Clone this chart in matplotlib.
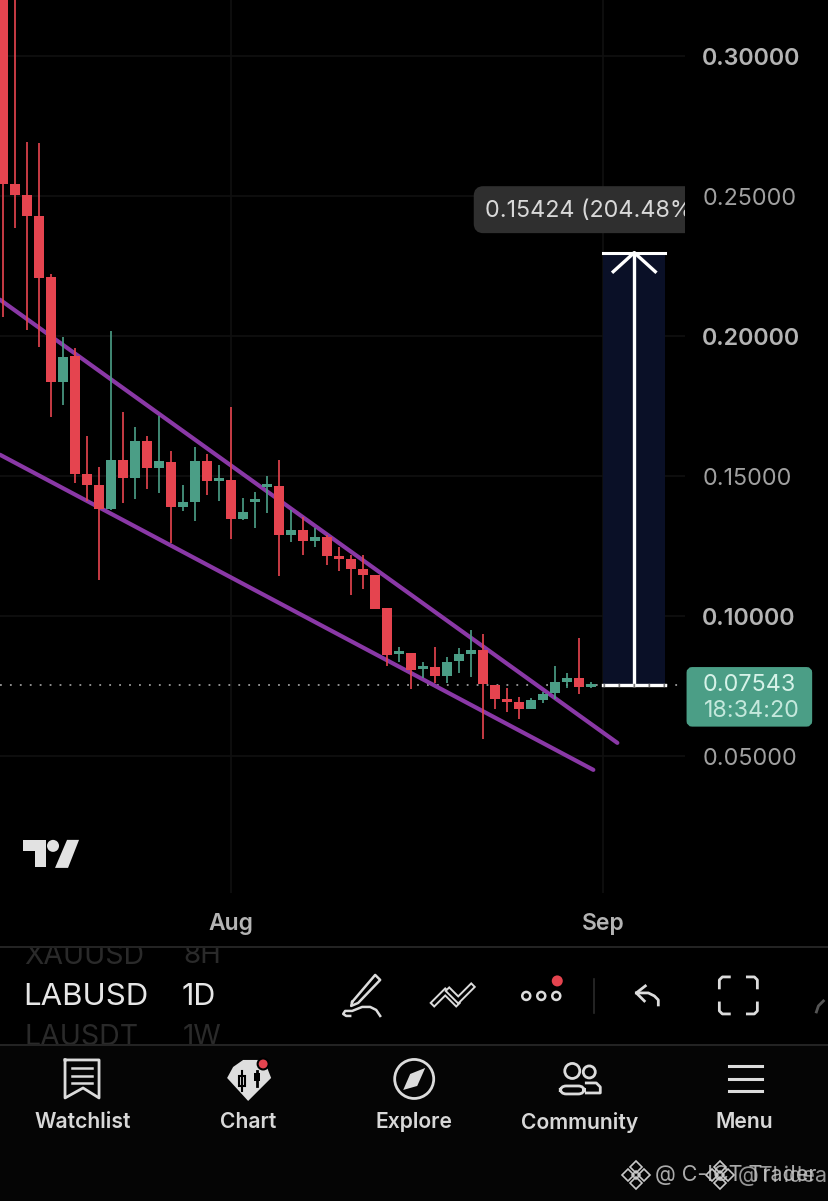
import matplotlib
matplotlib.use("Agg")
import matplotlib.pyplot as plt
from matplotlib.patches import Rectangle, FancyBboxPatch, Circle, Polygon

plt.rcParams['font.family'] = ['Inter', 'DejaVu Sans']

# Daily candles, first one is 19 days before Aug 1
days = list(range(-19, 31))
opens = [0.34000, 0.25429, 0.25036, 0.24286, 0.22107, 0.18357, 0.19286, 0.15071, 0.14679, 0.13821,
         0.15571, 0.14929, 0.16250, 0.15286, 0.15500, 0.13893, 0.14071, 0.15536, 0.14821, 0.14857,
         0.13464, 0.14071, 0.14607, 0.14643, 0.12893, 0.13071, 0.12679, 0.12821, 0.12143, 0.12036,
         0.11679, 0.11464, 0.10286, 0.08643, 0.08679, 0.08107, 0.08179, 0.07857, 0.08393, 0.08643,
         0.08786, 0.07536, 0.07036, 0.06929, 0.06679, 0.07000, 0.07250, 0.07643, 0.07786, 0.07464]
closes = [0.25429, 0.25036, 0.24286, 0.22071, 0.18357, 0.19250, 0.15071, 0.14679, 0.13821, 0.15571,
          0.14929, 0.16250, 0.15286, 0.15536, 0.13893, 0.14071, 0.15536, 0.14821, 0.14857, 0.13464,
          0.13714, 0.14071, 0.14607, 0.12893, 0.13071, 0.12679, 0.12821, 0.12143, 0.12036, 0.11679,
          0.11464, 0.10250, 0.08607, 0.08679, 0.08071, 0.08179, 0.07857, 0.08357, 0.08643, 0.08786,
          0.07571, 0.07036, 0.06929, 0.06679, 0.07000, 0.07214, 0.07643, 0.07786, 0.07464, 0.07543]
highs = [0.36000, 0.32000, 0.26929, 0.26893, 0.22214, 0.19964, 0.19571, 0.16429, 0.15321, 0.20179,
         0.17286, 0.16750, 0.16429, 0.17143, 0.15893, 0.14679, 0.16036, 0.15786, 0.15393, 0.17464,
         0.14214, 0.14429, 0.15000, 0.15571, 0.13786, 0.13536, 0.13143, 0.12893, 0.12464, 0.12179,
         0.12179, 0.11464, 0.10286, 0.08893, 0.08679, 0.08357, 0.08893, 0.08536, 0.08857, 0.09500,
         0.09357, 0.07536, 0.07429, 0.07107, 0.07071, 0.07286, 0.08214, 0.07964, 0.09214, 0.07643]
lows = [0.20679, 0.23857, 0.20214, 0.19607, 0.17107, 0.17536, 0.14750, 0.14107, 0.11286, 0.13786,
        0.14036, 0.14179, 0.14536, 0.14393, 0.12607, 0.13750, 0.13393, 0.14321, 0.14107, 0.12750,
        0.13429, 0.13143, 0.13679, 0.11429, 0.12643, 0.12179, 0.12464, 0.11821, 0.11607, 0.10750,
        0.10964, 0.10250, 0.08214, 0.08357, 0.07393, 0.07786, 0.07607, 0.07607, 0.07964, 0.07821,
        0.05607, 0.06679, 0.06571, 0.06321, 0.06679, 0.06893, 0.07036, 0.07429, 0.07214, 0.07429]

upper_x = [-19.25, 32.17]
upper_y = [0.21286, 0.05464]
lower_x = [-19.25, 30.17]
lower_y = [0.15750, 0.04500]

last_price = 0.07543
range_change = 0.15424
range_pct = 204.48
range_start = 31
range_end = 36.17
arrow_day = 33.58

price_ticks = [0.05, 0.10, 0.15, 0.20, 0.25, 0.30]
month_days = [0, 31]
month_labels = ['Aug', 'Sep']

RED = '#e5444f'
GREEN = '#4b9e86'
PURPLE = '#8a38a6'

W, H = 828, 1201
fig = plt.figure(figsize=((W + 0.4) / 100, (H + 0.4) / 100), dpi=100, facecolor='#000000')

# price chart: 12 px per day, 2800 px per unit of price
chart_r = 685
chart_b = 893
ax = fig.add_axes([0, 1 - chart_b / H, chart_r / W, chart_b / H], facecolor='#000000')
ax.set_xlim(-231 / 12, (chart_r - 231) / 12)
ax.set_ylim(0.05 + (756 - chart_b) / 2800, 0.05 + 756 / 2800)
for s in ax.spines.values():
    s.set_visible(False)
ax.grid(True, color='#101010', lw=1.2)
ax.set_axisbelow(True)
ax.yaxis.tick_right()
ax.set_yticks(price_ticks)
ax.set_yticklabels(['%.5f' % p for p in price_ticks], fontsize=16.8)
ax.set_xticks(month_days)
ax.set_xticklabels(month_labels, fontsize=16.5, fontweight='semibold', color='#b4b4b4')
ax.tick_params(axis='both', length=0)
ax.tick_params(axis='y', pad=12.2)
ax.tick_params(axis='x', pad=14)
for lab, p in zip(ax.get_yticklabels(), price_ticks):
    if round(p * 100) % 10 == 0:
        lab.set_color('#b4b4b4')
        lab.set_fontweight('semibold')
    else:
        lab.set_color('#a0a0a0')

ax.plot(upper_x, upper_y, color=PURPLE, lw=3, zorder=3, solid_capstyle='round')
ax.plot(lower_x, lower_y, color=PURPLE, lw=3, zorder=3, solid_capstyle='round')

for d, o, c, hi, lo in zip(days, opens, closes, highs, lows):
    col = GREEN if c >= o else RED
    ax.vlines(d, lo, hi, color=col, lw=1.35, alpha=0.9, zorder=4)
    ax.bar(d, max(abs(c - o), 0.001), bottom=min(o, c), width=0.8, color=col, zorder=5)

# last price line and measure tool
ax.axhline(last_price, color='#9a9a9a', lw=1.3, ls=(0, (1, 4.5)), zorder=2)
top = last_price + range_change
ax.add_patch(Rectangle((range_start, last_price), range_end - range_start, range_change,
                       facecolor='#0a1027', edgecolor='none', zorder=1.5))
ax.plot([range_start, range_end], [top, top], color='white', lw=2.2, zorder=6)
ax.plot([range_start, range_end], [last_price, last_price], color='white', lw=2.4, zorder=6)
ax.plot([range_start, range_end], [last_price, last_price], color='#777777', lw=2.4,
        ls=(0, (0.5, 4)), zorder=7)
ax.plot([arrow_day, arrow_day], [last_price, top], color='white', lw=2.4, zorder=6)
ax.plot([arrow_day - 1.75, arrow_day, arrow_day + 1.75], [top - 0.0068, top, top - 0.0068],
        color='white', lw=2.4, zorder=6)

# everything else is app chrome, drawn in pixel coordinates
ui = fig.add_axes([0, 0, 1, 1], facecolor='none')
ui.set_xlim(0, W)
ui.set_ylim(H, 0)
ui.axis('off')

ui.add_patch(Rectangle((0, 1046), W, H - 1046, fc='#050505', ec='none', zorder=0))

box = FancyBboxPatch((477, 190), 220, 40, boxstyle='round,pad=0,rounding_size=6',
                     mutation_aspect=1, linewidth=5, edgecolor='#2f2f2f', facecolor='#2f2f2f')
ui.add_patch(box)
box.set_clip_path(Rectangle((470, 180), 215, 60, transform=ui.transData))
t = ui.text(485, 211, '%.5f (%.2f%%)' % (range_change, range_pct), color='#d8d8d8', fontsize=16.8,
            va='center', ha='left', clip_on=True)
t.set_clip_path(Rectangle((470, 180), 215, 60, transform=ui.transData))

ui.add_patch(FancyBboxPatch((689, 670), 120, 54, boxstyle='round,pad=0,rounding_size=3',
                            linewidth=4, edgecolor=GREEN, facecolor=GREEN))
ui.text(749, 685, '%.5f' % last_price, color='#d6f2e8', fontsize=16.8, ha='center', va='center')
ui.text(752, 711, '18:34:20', color='#c4e8dc', fontsize=16.8, ha='center', va='center')

# TradingView logo
ui.add_patch(Polygon([(23, 840), (46, 840), (46, 867), (35, 867), (35, 851), (23, 851)], fc='#e2e2e2'))
ui.add_patch(Circle((53, 846), 6, fc='#e2e2e2'))
ui.add_patch(Polygon([(67, 840), (79, 840), (68, 868), (55, 868)], fc='#e2e2e2'))

# symbol wheel
ui.plot([0, W], [947, 947], color='#2b2b2b', lw=1.2)
ui.plot([0, W], [1045, 1045], color='#2b2b2b', lw=1.2)
wheel_clip = Rectangle((0, 948), 147, 96, transform=ui.transData)
wheel_clip2 = Rectangle((0, 948), 240, 96, transform=ui.transData)
for txt, x, y, col, fs, clip in [('XAUUSD', 24, 956, '#2a2a2a', 20.5, wheel_clip),
                                 ('LABUSD', 23, 997, '#e6e6e6', 22.5, wheel_clip),
                                 ('LAUSDT', 24, 1037, '#2a2a2a', 20.5, wheel_clip),
                                 ('8H', 183, 956, '#2a2a2a', 20, wheel_clip2),
                                 ('1D', 181, 997, '#e6e6e6', 22, wheel_clip2),
                                 ('1W', 183, 1037, '#2a2a2a', 20, wheel_clip2)]:
    tx = ui.text(x, y, txt, color=col, fontsize=fs, ha='left', va='center', clip_on=True)
    tx.set_clip_path(clip)

ICON = '#dcdcdc'
# pencil
ui.plot([352, 375, 380, 358, 351, 352], [1002, 975, 980, 1003, 1006, 1002], color=ICON, lw=1.8)
ui.plot([380, 376, 370, 362, 352, 345, 343, 346, 350],
        [1016, 1010, 1007, 1007, 1011, 1011, 1014, 1016, 1016], color=ICON, lw=1.8)
# two-line tool
for xs, ys in [([434, 445, 456], [1003, 992, 1003]), ([449, 458, 471], [991, 1000, 987])]:
    ui.plot(xs, ys, color=ICON, lw=5, solid_joinstyle='miter')
    ui.plot(xs, ys, color='#000000', lw=2.2, solid_joinstyle='miter')
# three dots and red badge
for cx in [526, 541, 556]:
    ui.add_patch(Circle((cx, 996), 4, fc='none', ec=ICON, lw=1.8))
ui.add_patch(Circle((557, 981), 5.5, fc=RED))
ui.plot([594, 594], [979, 1013], color='#2b2b2b', lw=1.2)
# undo
ui.plot([645, 636, 644], [986, 993, 1001], color=ICON, lw=2)
ui.plot([636, 648, 654, 658, 658], [993, 993, 996, 1000, 1005], color=ICON, lw=2)
# fullscreen corners
for x0, y0, sx, sy in [(719, 977, 1, 1), (757, 977, -1, 1), (719, 1014, 1, -1), (757, 1014, -1, -1)]:
    ui.plot([x0, x0, x0 + 3 * sx, x0 + 10 * sx], [y0 + 11 * sy, y0 + 3 * sy, y0, y0], color=ICON, lw=2)
ui.plot([816, 818, 823], [1012, 1006, 1001], color='#555555', lw=2)

# bottom tab bar
tabs = ['Watchlist', 'Chart', 'Explore', 'Community', 'Menu']
tab_x = [83, 248, 414, 579, 744]
for name, x in zip(tabs, tab_x):
    ui.text(x, 1122, name, color='#d8d8d8', fontsize=15.2, fontweight='semibold', ha='center', va='center')

ui.plot([65, 65, 83, 99, 99, 65], [1060, 1098, 1088, 1098, 1060, 1060], color=ICON, lw=2)
for y in [1068, 1076, 1083]:
    ui.plot([72, 92], [y, y], color=ICON, lw=1.8)

ui.add_patch(Polygon([(233, 1067), (243, 1060), (264, 1060), (271, 1078), (248, 1101), (227, 1078)], fc='#dedede'))
ui.plot([242, 242], [1071, 1091], color='#000000', lw=1.5)
ui.add_patch(Rectangle((239, 1076), 6, 10, fc='#dedede', ec='#000000', lw=1.5))
ui.plot([257, 257], [1071, 1086], color='#000000', lw=2)
ui.add_patch(Rectangle((254, 1073), 6, 8, fc='#000000'))
ui.add_patch(Circle((263, 1064), 5.5, fc=RED, ec='#000000', lw=1.5))

ui.add_patch(Circle((414, 1079), 19.5, fc='none', ec=ICON, lw=2))
ui.add_patch(Polygon([(425, 1068), (417, 1086), (403, 1090), (410, 1074)], fc=ICON))

ui.add_patch(Circle((572, 1071), 7.5, fc='none', ec=ICON, lw=2))
ui.add_patch(Circle((589, 1072), 6, fc='none', ec=ICON, lw=2))
ui.add_patch(FancyBboxPatch((560, 1086), 24, 8, boxstyle='round,pad=0,rounding_size=6', fc='none', ec=ICON, lw=2))
ui.plot([586, 596, 600, 600, 586], [1083, 1083, 1087, 1093, 1093], color=ICON, lw=2)

for y in [1066, 1079, 1091]:
    ui.plot([729, 762], [y, y], color=ICON, lw=2.2)

# overlapping watermarks
ui.text(655, 1175, '@ C-ICT Trader', color='#c8c8c8', fontsize=15.5, ha='left', va='center', alpha=0.85)
ui.text(738, 1175, '@Tl idea', color='#c8c8c8', fontsize=15.5, ha='left', va='center', alpha=0.75)
for cx in [636, 720]:
    for dx, dy, s in [(0, -8, 6), (0, 8, 6), (-8, 0, 6), (8, 0, 6), (0, 0, 4)]:
        ui.plot(cx + dx, 1175 + dy, marker='D', ms=s, mfc='none', mec='#c8c8c8', mew=1.2)

fig.savefig('out.png', dpi=100, facecolor=fig.get_facecolor())
